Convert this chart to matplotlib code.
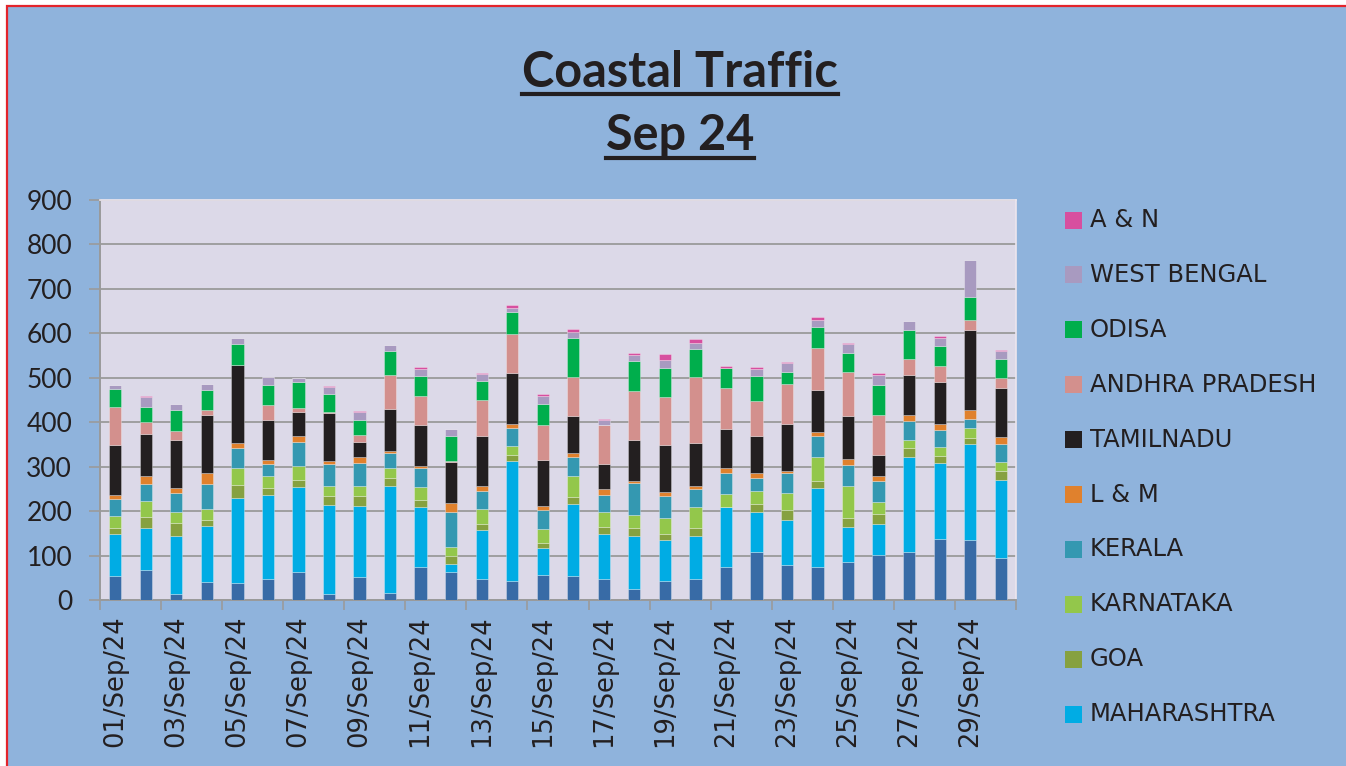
import matplotlib.pyplot as plt
import numpy as np
from matplotlib.patches import Rectangle
from matplotlib.lines import Line2D

# categories
days = [f"{d:02d}/Sep/24" for d in range(1, 31)]

# vessels per state (bottom to top)
gujarat = [55, 68, 14, 41, 38, 47, 64, 14, 52, 15, 74, 64, 47, 42, 56,
           54, 47, 24, 43, 48, 75, 109, 79, 74, 86, 102, 107, 138, 136, 95]
maharashtra = [94, 95, 130, 126, 191, 189, 190, 200, 160, 241, 136, 18, 110, 270, 61,
               161, 101, 120, 91, 95, 134, 89, 100, 178, 79, 70, 215, 170, 216, 176]
goa = [14, 24, 29, 14, 30, 15, 17, 19, 21, 18, 16, 17, 14, 14, 11,
       17, 17, 17, 15, 18, 0, 17, 23, 15, 20, 21, 20, 17, 13, 20]
karnataka = [26, 35, 26, 23, 39, 27, 30, 23, 23, 24, 29, 21, 33, 21, 32,
             48, 33, 31, 36, 48, 30, 30, 39, 54, 72, 28, 19, 20, 23, 19]
kerala = [39, 40, 42, 58, 45, 29, 55, 49, 52, 32, 42, 79, 42, 40, 43,
          42, 38, 71, 50, 41, 46, 29, 44, 47, 47, 46, 42, 37, 20, 42]
l_m = [8, 17, 11, 23, 10, 7, 13, 8, 13, 5, 4, 20, 11, 10, 8,
       8, 14, 4, 9, 7, 11, 11, 6, 9, 14, 13, 14, 14, 19, 14]
tamilnadu = [113, 95, 108, 132, 176, 92, 53, 108, 35, 95, 92, 91, 113, 114, 105,
             83, 55, 92, 105, 97, 88, 84, 105, 95, 95, 46, 89, 95, 181, 110]
andhra = [85, 26, 21, 11, 0, 32, 11, 3, 16, 76, 67, 2, 81, 87, 77,
          88, 88, 112, 108, 148, 92, 79, 91, 95, 101, 91, 37, 36, 21, 23]
odisa = [40, 34, 46, 44, 48, 45, 58, 40, 34, 54, 45, 58, 42, 51, 49,
         88, 0, 66, 66, 62, 46, 57, 27, 48, 41, 66, 65, 44, 52, 44]
west_bengal = [9, 22, 13, 15, 12, 19, 8, 16, 16, 14, 15, 14, 15, 7, 17,
               15, 13, 14, 16, 15, 0, 15, 20, 16, 20, 24, 20, 18, 83, 17]
a_n = [0, 2, 2, 0, 0, 0, 0, 2, 4, 0, 4, 0, 2, 8, 5,
       5, 1, 4, 14, 8, 5, 5, 1, 6, 3, 4, 0, 4, 2, 3]

names = ["GUJARAT", "MAHARASHTRA", "GOA", "KARNATAKA", "KERALA", "L & M",
         "TAMILNADU", "ANDHRA PRADESH", "ODISA", "WEST BENGAL", "A & N"]
series = [gujarat, maharashtra, goa, karnataka, kerala, l_m,
          tamilnadu, andhra, odisa, west_bengal, a_n]
colors = ["#386BA6", "#00ACE4", "#86A140", "#93C74B", "#3498B1", "#E0812D",
          "#231F20", "#D3908D", "#00AE4C", "#A89AC0", "#D74F9F"]

W, H = 1346, 766
def fx(px):
    return px / W
def fy(py):
    return 1 - py / H

fig = plt.figure(figsize=(W / 100, H / 100), dpi=100)
fig.patch.set_facecolor("white")
fig.add_artist(Rectangle((fx(7), -0.1), 1.2, fy(6) + 0.1, transform=fig.transFigure,
                         facecolor="#8FB3DC", edgecolor="#E3242B", lw=1.6,
                         zorder=-10))

ax = fig.add_axes([fx(100), fy(600), fx(1016) - fx(100), fy(200) - fy(600)])
ax.set_facecolor("#DCD9E8")

x = np.arange(len(days))
bottom = np.zeros(len(days))
for name, vals, c in zip(names, series, colors):
    ax.bar(x, vals, 0.4, bottom=bottom, color=c, edgecolor=(1, 1, 1, 0.35),
           linewidth=0.6, label=name, zorder=3)
    bottom += np.array(vals)

ax.set_xlim(-0.5, len(days) - 0.5)
ax.set_ylim(0, 900)
ax.set_yticks(range(0, 901, 100))
ax.set_axisbelow(True)
ax.yaxis.grid(True, color="#9A9A9A", lw=1.3)
ax.tick_params(axis="y", length=8, width=1.2, color="#9A9A9A", pad=12,
               labelsize=19, labelcolor="#231F20")
for lab in ax.get_yticklabels():
    lab.set_family(["Lato", "DejaVu Sans"])

# ticks between every second day, labels under odd days
ax.set_xticks(np.arange(-0.5, len(days), 2))
ax.set_xticklabels([])
ax.tick_params(axis="x", which="major", length=7, width=1.2, color="#9A9A9A")
ax.set_xticks(x[::2], minor=True)
ax.set_xticklabels(days[::2], minor=True, rotation=90, fontsize=18.5,
                   color="#231F20")
ax.tick_params(axis="x", which="minor", length=0, pad=11)

for s in ["left", "bottom"]:
    ax.spines[s].set_color("#9A9A9A")
    ax.spines[s].set_linewidth(1.4)
for s in ["top", "right"]:
    ax.spines[s].set_color("#EDE6EE")
    ax.spines[s].set_linewidth(1.2)

# title, underlined
title_font = dict(family=["Lato", "DejaVu Sans"],
                  fontweight="bold", fontsize=35, color="#231F20",
                  ha="center", va="baseline")
t1 = fig.text(fx(680), fy(87), "Coastal Traffic", **title_font)
t2 = fig.text(fx(680), fy(150), "Sep 24", **title_font)
fig.canvas.draw()
r = fig.canvas.get_renderer()
for t, uy in [(t1, 94), (t2, 158)]:
    bb = t.get_window_extent(r)
    fig.add_artist(Line2D([bb.x0 / W, bb.x1 / W], [fy(uy), fy(uy)],
                          transform=fig.transFigure, color="#231F20", lw=3))

# legend (A & N at top, Gujarat not shown)
for i, k in enumerate(range(len(names) - 1, 0, -1)):
    cy = 220 + i * 54.9
    fig.add_artist(Rectangle((fx(1065), fy(cy + 8.5)), 17 / W, 17 / H,
                             transform=fig.transFigure, facecolor=colors[k],
                             edgecolor="none"))
    fig.text(fx(1090), fy(cy), names[k], fontsize=17.5, color="#231F20",
             va="center", ha="left")

fig.savefig("out.png", dpi=100)
